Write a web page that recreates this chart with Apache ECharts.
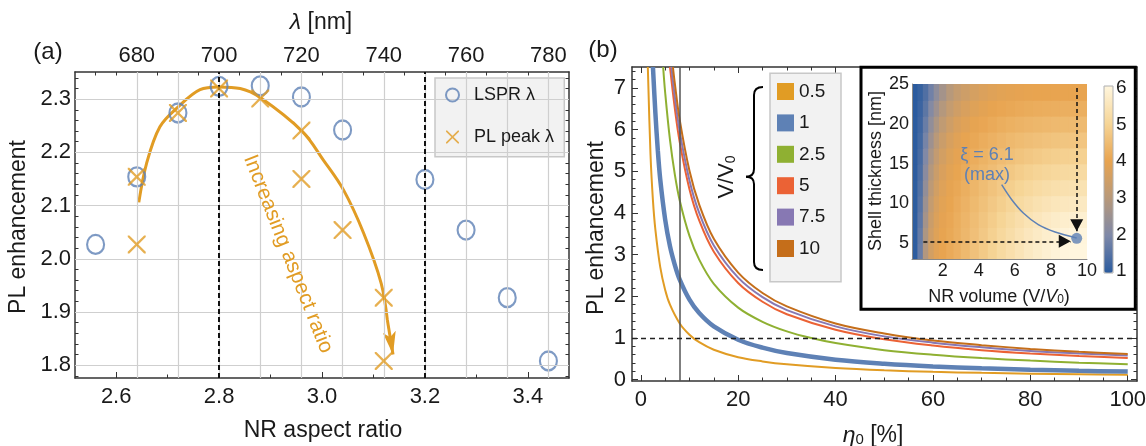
<!DOCTYPE html>
<html>
<head>
<meta charset="utf-8">
<script src="https://cdn.jsdelivr.net/npm/echarts@6/dist/echarts.min.js"></script>
<style>
  html, body { margin: 0; padding: 0; background: #fff; }
  #c { width: 1146px; height: 446px; }
</style>
</head>
<body>
<div id="c"></div>
<script>
// ---------- Panel (a): PL enhancement vs. nanorod aspect ratio ----------
const lsprAspect = [2.56, 2.64, 2.72, 2.80, 2.88, 2.96, 3.04, 3.20, 3.28, 3.36, 3.44];
const lsprEnh    = [2.027, 2.154, 2.274, 2.324, 2.325, 2.304, 2.242, 2.149, 2.054, 1.927, 1.808];
const peakAspect = [2.64, 2.64, 2.72, 2.80, 2.88, 2.96, 2.96, 3.04, 3.12, 3.12];
const peakEnh    = [2.154, 2.027, 2.274, 2.320, 2.301, 2.241, 2.150, 2.054, 1.927, 1.808];
// guide arrow ("Increasing aspect ratio")
const trendAspect = [2.644, 2.659, 2.685, 2.720, 2.763, 2.800, 2.841, 2.880, 2.962, 3.003, 3.042, 3.081, 3.115, 3.127];
const trendEnh    = [2.106, 2.179, 2.248, 2.285, 2.318, 2.323, 2.320, 2.303, 2.239, 2.185, 2.129, 2.048, 1.954, 1.885];
const trendTip    = [3.138, 1.820];
const refAspect   = [2.8, 3.2];

// axis ticks, panel (a)
const aspectTicks  = [2.6, 2.8, 3.0, 3.2, 3.4];
const aspectMinor  = [2.7, 2.9, 3.1, 3.3];
const lambdaTicks  = [680, 700, 720, 740, 760, 780];
const lambdaMinor  = [670, 675, 685, 690, 695, 705, 710, 715, 725, 730, 735, 745, 750, 755, 765, 770, 775];
const lambdaGrid   = [680, 690, 700, 710, 720, 730, 740, 750, 760, 770, 780];
const enhTicks     = [1.8, 1.9, 2.0, 2.1, 2.2, 2.3];

// ---------- Panel (b): PL enhancement vs. intrinsic quantum yield ----------
const volumeLabels = ['0.5', '1', '2.5', '5', '7.5', '10'];
const curve05 = [[1.45,7.5],[2,5.4],[2.5,4.3],[3,3.6],[4,2.7],[5,2.16],[6,1.8],[8,1.35],[10,1.08],[12,0.9],[15,0.72],[20,0.54],[25,0.44],[30,0.37],[40,0.28],[50,0.225],[60,0.19],[70,0.165],[80,0.145],[90,0.13],[100,0.12]];
const curve1  = [[2.5,7.5],[3,6.4],[3.5,5.5],[4,4.8],[5,3.85],[6,3.2],[7,2.75],[8,2.4],[10,1.92],[12,1.6],[15,1.28],[20,0.96],[25,0.77],[30,0.64],[40,0.48],[50,0.385],[60,0.32],[70,0.275],[80,0.24],[90,0.215],[100,0.195]];
const curve25 = [[4.6,7.5],[5,6.9],[6,5.75],[7,4.92],[8,4.3],[10,3.45],[12,2.88],[15,2.3],[20,1.73],[25,1.39],[30,1.16],[35,1.0],[40,0.88],[50,0.71],[60,0.6],[70,0.52],[80,0.46],[90,0.41],[100,0.37]];
const curve5  = [[6.0,7.5],[7,6.5],[8,5.7],[10,4.57],[12,3.82],[15,3.07],[20,2.32],[25,1.87],[30,1.57],[40,1.2],[50,0.97],[60,0.82],[70,0.71],[80,0.63],[90,0.57],[100,0.52]];
const curve75 = [[6.3,7.5],[7,6.78],[8,5.95],[10,4.78],[12,4.0],[15,3.22],[20,2.45],[25,1.98],[30,1.67],[40,1.28],[50,1.04],[60,0.89],[70,0.78],[80,0.69],[90,0.63],[100,0.58]];
const curve10 = [[6.6,7.5],[7,7.1],[8,6.23],[10,5.01],[12,4.2],[15,3.38],[20,2.57],[25,2.08],[30,1.76],[40,1.35],[50,1.11],[60,0.94],[70,0.83],[80,0.74],[90,0.67],[100,0.62]];
const etaMarker = 8;
const unityLevel = 1;

const etaTicks = [0, 20, 40, 60, 80, 100];
const plTicks  = [0, 1, 2, 3, 4, 5, 6, 7];

// ---------- Inset: enhancement map over NR volume and shell thickness ----------
const volEdges   = [0.3, 0.6, 0.9, 1.2, 1.5, 1.8, 2.2, 2.6, 3.0, 3.5, 4.0, 4.5, 5.0, 5.5, 6.0, 6.5, 7.0, 7.5, 8.0, 8.5, 9.0, 9.5, 10.0];
const shellEdges = [3, 5, 7, 9, 11, 13, 15, 17, 19, 21, 23, 25];
// rows from thin shell (bottom) to thick shell (top)
const xiGrid = [
  [1.05, 1.75, 2.90, 3.55, 3.85, 4.00, 4.12, 4.25, 4.42, 4.60, 4.78, 4.96, 5.14, 5.30, 5.45, 5.60, 5.72, 5.83, 5.92, 5.98, 6.00, 6.00],
  [1.05, 1.70, 2.80, 3.48, 3.80, 3.97, 4.10, 4.23, 4.39, 4.56, 4.74, 4.91, 5.08, 5.24, 5.39, 5.53, 5.65, 5.76, 5.85, 5.92, 5.96, 5.97],
  [1.05, 1.62, 2.65, 3.38, 3.73, 3.93, 4.07, 4.20, 4.35, 4.51, 4.67, 4.83, 4.99, 5.14, 5.28, 5.41, 5.52, 5.62, 5.70, 5.76, 5.80, 5.82],
  [1.04, 1.55, 2.50, 3.25, 3.64, 3.87, 4.02, 4.15, 4.29, 4.44, 4.59, 4.74, 4.88, 5.01, 5.14, 5.25, 5.35, 5.43, 5.50, 5.55, 5.58, 5.60],
  [1.04, 1.48, 2.35, 3.10, 3.52, 3.79, 3.96, 4.09, 4.22, 4.36, 4.50, 4.63, 4.76, 4.88, 4.99, 5.09, 5.17, 5.24, 5.30, 5.34, 5.37, 5.38],
  [1.03, 1.42, 2.20, 2.93, 3.38, 3.68, 3.88, 4.02, 4.15, 4.28, 4.40, 4.52, 4.63, 4.73, 4.83, 4.91, 4.98, 5.04, 5.09, 5.12, 5.14, 5.15],
  [1.03, 1.36, 2.05, 2.75, 3.22, 3.55, 3.78, 3.94, 4.07, 4.19, 4.30, 4.40, 4.49, 4.57, 4.65, 4.72, 4.78, 4.83, 4.87, 4.90, 4.91, 4.92],
  [1.02, 1.30, 1.90, 2.55, 3.03, 3.38, 3.64, 3.83, 3.97, 4.08, 4.18, 4.27, 4.35, 4.42, 4.48, 4.53, 4.58, 4.62, 4.65, 4.67, 4.68, 4.68],
  [1.02, 1.25, 1.75, 2.33, 2.80, 3.17, 3.46, 3.68, 3.84, 3.96, 4.05, 4.13, 4.20, 4.26, 4.31, 4.35, 4.38, 4.41, 4.43, 4.44, 4.45, 4.45],
  [1.01, 1.20, 1.60, 2.10, 2.55, 2.93, 3.24, 3.48, 3.66, 3.80, 3.90, 3.98, 4.04, 4.09, 4.13, 4.16, 4.18, 4.20, 4.21, 4.22, 4.22, 4.22],
  [1.01, 1.15, 1.45, 1.85, 2.28, 2.66, 2.98, 3.24, 3.44, 3.60, 3.72, 3.81, 3.87, 3.92, 3.95, 3.97, 3.99, 4.00, 4.00, 4.00, 4.00, 4.00]
];
const maxPoint   = [9.43, 5.6];
const vGuide     = [[9.43, 24.5], [9.43, 6.5]];
const hGuide     = [[0.93, 5.22], [9.1, 5.22]];
const calloutPath = [[5.27, 12.34], [5.83, 10.45], [6.47, 8.78], [7.30, 7.31], [8.23, 6.39], [9.43, 5.64]];
const volTicks   = [2, 4, 6, 8, 10];
const shellTicks = [5, 10, 15, 20, 25];
const xiTicks    = [1, 2, 3, 4, 5, 6];

// ---------- styling ----------
const FONT  = '"Liberation Sans", Arial, Helvetica, sans-serif';
const INK   = '#1a1a1a';
const FRAME = '#333333';
const BLUE = '#5E81B5', ORANGE = '#E19C24', GREEN = '#8FB032', RED = '#EB6235', PURPLE = '#8778B3', BROWN = '#C56E1A';
const MAP_COLORS = ['#2a5b9f', '#7e88a8', '#b8997a', '#e8a450', '#f6d597', '#fff6de'];
const LEGEND_FILL = '#f2f2f2', LEGEND_EDGE = '#c8c8c8';

const X_MARK = 'path://M0,0L1.8,0L10,8.2L18.2,0L20,0L20,1.8L11.8,10L20,18.2L20,20L18.2,20L10,11.8L1.8,20L0,20L0,18.2L8.2,10L0,1.8Z';
// arrowheads drawn with their tip at the symbol centre
const DART = 'path://M24,24L30.5,47L24,41.5L17.5,47Z M0,0L0.01,0Z M48,48L47.99,48Z';
const TRI  = 'path://M12,12L18.5,24L5.5,24Z M0,0L0.01,0Z M24,24L23.99,24Z';

function between(lo, hi, step, skip) {
  const out = [];
  for (let k = Math.round(lo / step); k * step <= hi + 1e-9; k++) {
    const v = +(k * step).toFixed(4);
    if (!skip(v)) out.push(v);
  }
  return out;
}
const isMult = (v, m) => Math.abs(v / m - Math.round(v / m)) < 1e-6;
const enhMinor = between(1.78, 2.34, 0.02, v => isMult(v, 0.1));
const etaMinor = between(5, 95, 5, v => isMult(v, 20));
const plMinor  = between(0.2, 7.4, 0.2, v => isMult(v, 1));

function ax(gridIndex, position, min, max, ticks, o) {
  o = o || {};
  return {
    type: 'value', gridIndex, position, min, max, z: o.z || 0, silent: true,
    axisLine: { show: !!o.line, onZero: false, lineStyle: { color: o.lineColor || FRAME, width: o.lineWidth || 1.5 } },
    axisTick: { show: !!ticks && !o.noTick, inside: true, length: o.len || 6, customValues: ticks || undefined,
                lineStyle: { color: FRAME, width: 1 } },
    axisLabel: o.labels ? { show: true, customValues: ticks, margin: o.margin, fontSize: o.fontSize,
                            color: INK, fontFamily: FONT, formatter: o.fmt } : { show: false },
    splitLine: { show: false },
    show: o.hidden ? false : true
  };
}
const one = v => v.toFixed(1);

const xAxes = [
  ax(0, 'bottom', 2.52, 3.48, aspectTicks, { line: true, labels: true, margin: 8, fontSize: 22, fmt: one }),
  ax(0, 'bottom', 2.52, 3.48, aspectMinor, { len: 3.5 }),
  ax(0, 'top', 665, 785, lambdaTicks, { line: true, labels: true, margin: 5, fontSize: 22 }),
  ax(0, 'top', 665, 785, lambdaMinor, { len: 3.5 }),
  ax(1, 'bottom', -1.8, 101.9, etaTicks, { line: true, labels: true, margin: 8, fontSize: 22 }),
  ax(1, 'bottom', -1.8, 101.9, etaMinor, { len: 3.5 }),
  ax(1, 'top', -1.8, 101.9, etaTicks, { line: true }),
  ax(1, 'top', -1.8, 101.9, etaMinor, { len: 3.5 }),
  ax(2, 'bottom', 0.3, 10, volTicks, { line: true, lineColor: '#888', lineWidth: 1, noTick: true, labels: true, margin: 3, fontSize: 18, z: 6 }),
  ax(3, 'bottom', 0, 1, null, { hidden: true })
];
const yAxes = [
  ax(0, 'left', 1.776, 2.351, enhTicks, { line: true, labels: true, margin: 4, fontSize: 22, fmt: one }),
  ax(0, 'left', 1.776, 2.351, enhMinor, { len: 3.5 }),
  ax(0, 'right', 1.776, 2.351, enhTicks, { line: true }),
  ax(0, 'right', 1.776, 2.351, enhMinor, { len: 3.5 }),
  ax(1, 'left', -0.03, 7.5, plTicks, { line: true, labels: true, margin: 6, fontSize: 22 }),
  ax(1, 'left', -0.03, 7.5, plMinor, { len: 3.5 }),
  ax(1, 'right', -0.03, 7.5, plTicks, { line: true }),
  ax(1, 'right', -0.03, 7.5, plMinor, { len: 3.5 }),
  ax(2, 'left', 3, 25, shellTicks, { line: true, lineColor: '#888', lineWidth: 1, noTick: true, labels: true, margin: 3, fontSize: 18, z: 6 }),
  ax(3, 'right', 0.95, 6.05, xiTicks, { noTick: true, labels: true, margin: 3, fontSize: 19, z: 6 })
];

const zip = (xs, ys) => xs.map((x, i) => [x, ys[i]]);

const heatCells = [];
xiGrid.forEach((row, j) => row.forEach((v, i) => {
  heatCells.push([volEdges[i], volEdges[i + 1], shellEdges[j], shellEdges[j + 1], v]);
}));

const curveSets = [curve05, curve1, curve25, curve5, curve75, curve10];
const curveColors = [ORANGE, BLUE, GREEN, RED, PURPLE, BROWN];
const curveWidths = [2, 4.5, 2, 2, 2, 2];

const noMark = { silent: true, symbol: ['none', 'none'], label: { show: false }, emphasis: { disabled: true }, animation: false };

const series = [
  // 0: grid lines of panel (a)
  { type: 'line', xAxisIndex: 2, yAxisIndex: 0, data: [], z: 1, silent: true,
    markLine: Object.assign({}, noMark, {
      lineStyle: { color: '#cfcfcf', width: 1.2, type: 'solid' },
      data: lambdaGrid.map(v => ({ xAxis: v })).concat(enhTicks.map(v => ({ yAxis: v })))
    }) },
  // 1: reference aspect ratios
  { type: 'line', xAxisIndex: 0, yAxisIndex: 0, data: [], z: 2, silent: true,
    markLine: Object.assign({}, noMark, {
      lineStyle: { color: '#111', width: 2, type: [5, 3] },
      data: refAspect.map(v => ({ xAxis: v }))
    }) },
  // 2: guide curve
  { type: 'line', xAxisIndex: 0, yAxisIndex: 0, data: zip(trendAspect, trendEnh), smooth: 0.35,
    symbol: 'none', lineStyle: { color: ORANGE, width: 3 }, z: 3, silent: true },
  // 3: guide arrowhead
  { type: 'lines', coordinateSystem: 'cartesian2d', xAxisIndex: 0, yAxisIndex: 0, z: 3, silent: true,
    symbol: ['none', DART], symbolSize: 48,
    lineStyle: { color: ORANGE, width: 3, opacity: 1, curveness: 0 },
    data: [{ coords: [[trendAspect[trendAspect.length - 1], trendEnh[trendEnh.length - 1]], trendTip] }] },
  // 4: LSPR wavelength
  { type: 'scatter', name: 'LSPR λ', xAxisIndex: 0, yAxisIndex: 0, data: zip(lsprAspect, lsprEnh),
    symbol: 'circle', symbolSize: [17, 19], z: 4, silent: true,
    itemStyle: { color: 'rgba(0,0,0,0)', borderColor: BLUE, borderWidth: 2.2 } },
  // 5: PL peak wavelength
  { type: 'scatter', name: 'PL peak λ', xAxisIndex: 0, yAxisIndex: 0, data: zip(peakAspect, peakEnh),
    symbol: X_MARK, symbolSize: 18, z: 5, silent: true, itemStyle: { color: ORANGE } }
];

// 6..11: panel (b) curves
curveSets.forEach((d, i) => {
  series.push({
    type: 'line', name: volumeLabels[i], xAxisIndex: 4, yAxisIndex: 4, data: d,
    smooth: 0.35, symbol: 'none', clip: true, z: 2, silent: true,
    color: curveColors[i], itemStyle: { color: curveColors[i] },
    lineStyle: { color: curveColors[i], width: curveWidths[i] }
  });
});

series.push(
  // 12: reference lines of panel (b)
  { type: 'line', xAxisIndex: 4, yAxisIndex: 4, data: [], z: 3, silent: true,
    markLine: Object.assign({}, noMark, {
      data: [
        { xAxis: etaMarker, lineStyle: { color: '#555', width: 1.5, type: 'solid' } },
        { yAxis: unityLevel, lineStyle: { color: '#222', width: 1.3, type: [5, 4] } }
      ]
    }) },
  // 13: enhancement map
  { type: 'custom', coordinateSystem: 'cartesian2d', xAxisIndex: 8, yAxisIndex: 8, z: 3, silent: true, clip: true,
    data: heatCells, encode: { x: [0, 1], y: [2, 3] },
    renderItem: function (params, api) {
      const a = api.coord([api.value(0), api.value(3)]);
      const b = api.coord([api.value(1), api.value(2)]);
      return { type: 'rect', shape: { x: a[0], y: a[1], width: b[0] - a[0] + 0.8, height: b[1] - a[1] + 0.8 },
               style: { fill: api.visual('color') } };
    } },
  // 14: dashed guides to the maximum
  { type: 'lines', coordinateSystem: 'cartesian2d', xAxisIndex: 8, yAxisIndex: 8, z: 6, silent: true,
    symbol: ['none', TRI], symbolSize: 24,
    lineStyle: { color: '#111', width: 1.5, type: [4, 3], opacity: 1 },
    data: [{ coords: vGuide }, { coords: hGuide }] },
  // 15: callout line
  { type: 'line', xAxisIndex: 8, yAxisIndex: 8, data: calloutPath, smooth: 0.35, symbol: 'none', z: 6, silent: true,
    lineStyle: { color: BLUE, width: 1.5 } },
  // 16: maximum
  { type: 'scatter', xAxisIndex: 8, yAxisIndex: 8, data: [maxPoint], symbolSize: 11, z: 7, silent: true,
    itemStyle: { color: BLUE } }
);

function label(x, y, rich, text, size, opts) {
  opts = opts || {};
  return {
    type: 'text', x, y, rotation: opts.rot || 0, z: 20, silent: true,
    style: { text, fill: opts.color || INK, fontSize: size, fontFamily: FONT, align: 'center', verticalAlign: 'middle',
             rich: rich || undefined }
  };
}
const subRich = (size, sub, color) => ({
  n: { fontSize: size, fontFamily: FONT, fill: color || INK },
  i: { fontSize: size, fontFamily: FONT, fontStyle: 'italic', fill: color || INK },
  s: { fontSize: sub, fontFamily: FONT, fill: color || INK, verticalAlign: 'bottom' }
});

// curly brace grouping the legend entries
const braceStyle = { stroke: '#000', lineWidth: 2, fill: null };
const brace = [
  { type: 'bezierCurve', shape: { x1: 763, y1: 87, cpx1: 754, cpy1: 87, x2: 754, y2: 95 } },
  { type: 'line', shape: { x1: 754, y1: 95, x2: 754, y2: 169 } },
  { type: 'bezierCurve', shape: { x1: 754, y1: 169, cpx1: 754, cpy1: 176.7, x2: 746, y2: 176.7 } },
  { type: 'bezierCurve', shape: { x1: 746, y1: 176.7, cpx1: 754, cpy1: 176.7, x2: 754, y2: 184 } },
  { type: 'line', shape: { x1: 754, y1: 184, x2: 754, y2: 262 } },
  { type: 'bezierCurve', shape: { x1: 754, y1: 262, cpx1: 754, cpy1: 270, x2: 763, y2: 270 } }
].map(e => Object.assign(e, { z: 20, silent: true, style: braceStyle }));

const graphics = [
  // legend panels
  { type: 'rect', z: 2, silent: true, shape: { x: 435, y: 78, width: 129.3, height: 78.7 },
    style: { fill: LEGEND_FILL, stroke: LEGEND_EDGE, lineWidth: 1.5 } },
  { type: 'rect', z: 2, silent: true, shape: { x: 770, y: 73.3, width: 71, height: 208.4 },
    style: { fill: LEGEND_FILL, stroke: LEGEND_EDGE, lineWidth: 1.5 } },
  // inset frame
  { type: 'rect', z: 1, silent: true, shape: { x: 861, y: 67.3, width: 274.3, height: 242 },
    style: { fill: '#ffffff', stroke: '#000', lineWidth: 3 } },
  // colour bar outline
  { type: 'rect', z: 20, silent: true, shape: { x: 1104, y: 86, width: 9, height: 187 },
    style: { fill: null, stroke: '#b0b0b0', lineWidth: 1 } },
  ...brace,
  label(48, 52, null, '(a)', 24),
  label(603, 50, null, '(b)', 24),
  label(321, 23, subRich(23, 15), '{i|λ}{n| [nm]}', 23),
  label(19, 227, null, 'PL enhancement', 23, { rot: Math.PI / 2 }),
  label(323, 431, null, 'NR aspect ratio', 23),
  label(288, 254, null, 'Increasing aspect ratio', 21, { rot: -68.4 * Math.PI / 180, color: ORANGE }),
  label(597, 228, null, 'PL enhancement', 23, { rot: Math.PI / 2 }),
  label(873, 436, subRich(23, 15), '{i|η}{s|0}{n| [%]}', 23),
  label(727, 177, subRich(22, 14), '{n|V/V}{s|0}', 22, { rot: Math.PI / 2 }),
  label(876, 171, null, 'Shell thickness [nm]', 18, { rot: Math.PI / 2 }),
  label(999, 297, subRich(18, 12), '{n|NR volume (V/}{i|V}{s|0}{n|)}', 18),
  label(987, 155, null, 'ξ = 6.1', 18, { color: BLUE }),
  label(987, 175, null, '(max)', 18, { color: BLUE })
];

const option = {
  animation: false,
  backgroundColor: '#ffffff',
  textStyle: { fontFamily: FONT },
  grid: [
    { left: 75, top: 72, width: 494, height: 306, outerBoundsMode: 'none', containLabel: false },
    { left: 632, top: 67, width: 505, height: 314, outerBoundsMode: 'none', containLabel: false },
    { left: 912, top: 84, width: 175, height: 175, outerBoundsMode: 'none', containLabel: false, z: 3 },
    { left: 1104, top: 86, width: 9, height: 187, outerBoundsMode: 'none', containLabel: false }
  ],
  xAxis: xAxes,
  yAxis: yAxes,
  legend: [
    { data: ['LSPR λ', 'PL peak λ'], orient: 'vertical', left: 445, top: 78, padding: [8, 10, 9, 0],
      itemWidth: 33, itemHeight: 13, itemGap: 24, backgroundColor: 'transparent', borderWidth: 0,
      textStyle: { fontSize: 18, color: INK, fontFamily: FONT }, selectedMode: false, z: 6 },
    { data: volumeLabels, orient: 'vertical', left: 770, top: 73, padding: [9, 16, 6, 7],
      itemWidth: 17, itemHeight: 17, itemGap: 12.4, icon: 'rect', backgroundColor: 'transparent', borderWidth: 0,
      textStyle: { fontSize: 19, color: INK, fontFamily: FONT }, selectedMode: false, z: 6 }
  ],
  visualMap: {
    type: 'continuous', seriesIndex: 13, dimension: 4, min: 1, max: 6,
    inRange: { color: MAP_COLORS }, orient: 'vertical', left: 1104, top: 86,
    itemWidth: 9, itemHeight: 187, calculable: false, hoverLink: false, padding: 0, z: 5
  },
  graphic: { elements: graphics },
  series
};

const chart = echarts.init(document.getElementById('c'), null, { renderer: 'canvas', width: 1146, height: 446 });
chart.setOption(option);
</script>
</body>
</html>
